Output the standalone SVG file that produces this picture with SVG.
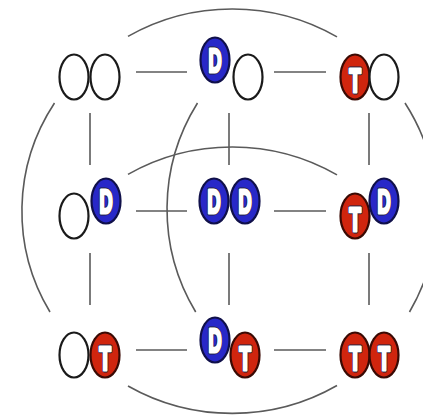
<svg xmlns="http://www.w3.org/2000/svg" width="423" height="415" viewBox="0 0 423 415">
  <style>
    .link { fill: none; stroke: #5a5a5a; stroke-width: 1.6; }
    .empty { fill: #ffffff; stroke: #1a1a1a; stroke-width: 2.2; }
    .blue { fill: #2828c8; stroke: #10104a; stroke-width: 2.2; }
    .red { fill: #d0250e; stroke: #3a0a04; stroke-width: 2.2; }
    .lbl { font-family: "Liberation Sans", Arial, sans-serif; font-weight: bold; font-size: 33px; text-anchor: middle; }
    .lbl-o { fill: #202040; stroke: #202040; stroke-width: 5.2; stroke-linejoin: round; }
    .lbl-i { fill: #ffffff; stroke: #ffffff; stroke-width: 3.2; stroke-linejoin: round; }
  </style>
  <defs>
    <g id="ballO">
      <ellipse class="empty" cx="0" cy="0" rx="14.5" ry="22.5"/>
    </g>
    <g id="ballD">
      <ellipse class="blue" cx="0" cy="0" rx="14.5" ry="22.5"/>
      <g transform="scale(0.55,1)">
        <text class="lbl lbl-o" x="0" y="11.5">D</text>
        <text class="lbl lbl-i" x="0" y="11.5">D</text>
      </g>
    </g>
    <g id="ballT">
      <ellipse class="red" cx="0" cy="0" rx="14.5" ry="22.5"/>
      <g transform="scale(0.58,1)">
        <text class="lbl lbl-o" x="0" y="14.5">T</text>
        <text class="lbl lbl-i" x="0" y="14.5">T</text>
      </g>
    </g>
  </defs>

  <!-- connectors: straight grid links plus wrap-around arcs -->
  <g id="connectors">
    <line class="link" x1="136" y1="72" x2="187" y2="72"/>
    <line class="link" x1="274" y1="72" x2="326" y2="72"/>
    <line class="link" x1="136" y1="211" x2="187" y2="211"/>
    <line class="link" x1="274" y1="211" x2="326" y2="211"/>
    <line class="link" x1="136" y1="350" x2="187" y2="350"/>
    <line class="link" x1="274" y1="350" x2="326" y2="350"/>
    <line class="link" x1="90" y1="113" x2="90" y2="165"/>
    <line class="link" x1="90" y1="253" x2="90" y2="305"/>
    <line class="link" x1="229" y1="113" x2="229" y2="165"/>
    <line class="link" x1="229" y1="253" x2="229" y2="305"/>
    <line class="link" x1="369" y1="113" x2="369" y2="165"/>
    <line class="link" x1="369" y1="253" x2="369" y2="305"/>
    <path class="link" d="M128,36.4 A207,202 0 0 1 337,36.9"/>
    <path class="link" d="M128,174.4 A207,202 0 0 1 337,174.9"/>
    <path class="link" d="M128,386 A207,202 0 0 0 337,385.5"/>
    <path class="link" d="M54.5,103 A210,202 0 0 0 50,312"/>
    <path class="link" d="M197.5,103 A205,202 0 0 0 195.7,312"/>
    <path class="link" d="M405,103 A205,202 0 0 1 409.5,312"/>
  </g>

  <!-- row 1 -->
  <g id="n-OO">
    <use href="#ballO" x="74" y="77"/>
    <use href="#ballO" x="105" y="77"/>
  </g>
  <g id="n-DO">
    <use href="#ballD" x="215" y="60"/>
    <use href="#ballO" x="248" y="77"/>
  </g>
  <g id="n-TO">
    <use href="#ballT" x="355" y="77"/>
    <use href="#ballO" x="384" y="77"/>
  </g>

  <!-- row 2 -->
  <g id="n-OD">
    <use href="#ballO" x="74" y="216"/>
    <use href="#ballD" x="106" y="201"/>
  </g>
  <g id="n-DD">
    <use href="#ballD" x="214" y="201"/>
    <use href="#ballD" x="245" y="201"/>
  </g>
  <g id="n-TD">
    <use href="#ballT" x="355" y="216"/>
    <use href="#ballD" x="384" y="201"/>
  </g>

  <!-- row 3 -->
  <g id="n-OT">
    <use href="#ballO" x="74" y="355"/>
    <use href="#ballT" x="105" y="355"/>
  </g>
  <g id="n-DT">
    <use href="#ballD" x="215" y="340"/>
    <use href="#ballT" x="245" y="355"/>
  </g>
  <g id="n-TT">
    <use href="#ballT" x="355" y="355"/>
    <use href="#ballT" x="384" y="355"/>
  </g>
</svg>
